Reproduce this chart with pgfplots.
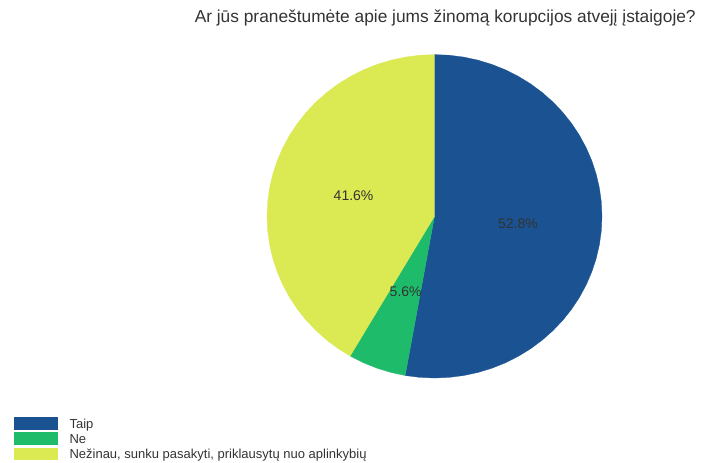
\documentclass[border=0pt]{standalone}
\usepackage{fontspec}
\setmainfont{Liberation Sans}
\usepackage{pgfplots}
\pgfplotsset{compat=1.18}
\usepgfplotslibrary{polar}
\definecolor{taip}{HTML}{1A5292}
\definecolor{ne}{HTML}{1EBB6B}
\definecolor{nezinau}{HTML}{DBE952}
\definecolor{txt}{HTML}{333333}
\begin{document}
\begin{tikzpicture}
% canvas 701x462 px, 1px = 0.75pt
\path (0,0) rectangle (525.75pt,-346.5pt);
\node[anchor=base east, font=\fontsize{13}{15}\selectfont, text=txt, inner sep=0pt]
  at (522pt,-17pt) {Ar jūs praneštumėte apie jums žinomą korupcijos atvejį įstaigoje?};
\begin{axis}[
  at={(325.875pt,-162.225pt)}, anchor=center,
  scale only axis, width=251.25pt, height=242.55pt,
  xmin=-1, xmax=1, ymin=-1, ymax=1,
  hide axis, clip=false,
  data cs=polar,
  legend cell align=left,
  legend image code/.code={\path[#1] (0pt,-4.3pt) rectangle (32.25pt,4.3pt);},
  legend style={at={(-0.7552,-0.1203)}, anchor=north west, draw=none, fill=none,
    inner sep=0pt, row sep=2.65pt, font=\fontsize{9.75}{11}\selectfont, text=txt,
    nodes={inner xsep=9pt, inner ysep=0pt, text height=8.05pt, text depth=0.55pt}},
]
% Taip 52.8% : 90 -> -100.08 deg
\addplot[fill=taip, draw=taip, line width=0.2pt] coordinates {
  (0,0) (90,1) (85,1) (80,1) (75,1) (70,1) (65,1) (60,1) (55,1) (50,1) (45,1)
  (40,1) (35,1) (30,1) (25,1) (20,1) (15,1) (10,1) (5,1) (0,1) (-5,1) (-10,1)
  (-15,1) (-20,1) (-25,1) (-30,1) (-35,1) (-40,1) (-45,1) (-50,1) (-55,1)
  (-60,1) (-65,1) (-70,1) (-75,1) (-80,1) (-85,1) (-90,1) (-95,1) (-100,1)
  (-100.08,1) (0,0)};
\addlegendentry{Taip}
% Ne 5.6% : -100.08 -> -120.24 deg
\addplot[fill=ne, draw=ne, line width=0.2pt] coordinates {
  (0,0) (-100.08,1) (-105,1) (-110,1) (-115,1) (-120,1) (-120.24,1) (0,0)};
\addlegendentry{Ne}
% Nezinau 41.6% : -120.24 -> -270 deg
\addplot[fill=nezinau, draw=nezinau, line width=0.2pt] coordinates {
  (0,0) (-120.24,1) (-125,1) (-130,1) (-135,1) (-140,1) (-145,1) (-150,1)
  (-155,1) (-160,1) (-165,1) (-170,1) (-175,1) (-180,1) (-185,1) (-190,1)
  (-195,1) (-200,1) (-205,1) (-210,1) (-215,1) (-220,1) (-225,1) (-230,1)
  (-235,1) (-240,1) (-245,1) (-250,1) (-255,1) (-260,1) (-265,1) (-270,1) (0,0)};
\addlegendentry{Nežinau, sunku pasakyti, priklausytų nuo aplinkybių}
\node[font=\fontsize{10.5}{12}\selectfont, text=txt] at (axis cs:0.498,-0.044) {52.8\%};
\node[font=\fontsize{10.5}{12}\selectfont, text=txt] at (axis cs:-0.172,-0.469) {5.6\%};
\node[font=\fontsize{10.5}{12}\selectfont, text=txt] at (axis cs:-0.483,0.130) {41.6\%};
\end{axis}
\end{tikzpicture}
\end{document}
